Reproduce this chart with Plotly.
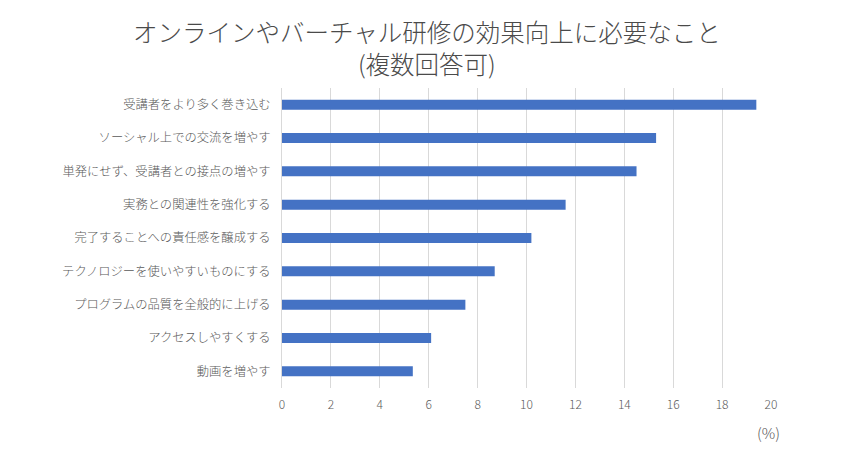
import plotly.graph_objects as go

categories = [
    "受講者をより多く巻き込む",
    "ソーシャル上での交流を増やす",
    "単発にせず、受講者との接点の増やす",
    "実務との関連性を強化する",
    "完了することへの責任感を醸成する",
    "テクノロジーを使いやすいものにする",
    "プログラムの品質を全般的に上げる",
    "アクセスしやすくする",
    "動画を増やす",
]
values = [19.4, 15.3, 14.5, 11.6, 10.2, 8.7, 7.5, 6.1, 5.35]
x_ticks = [0, 2, 4, 6, 8, 10, 12, 14, 16, 18, 20]
title_lines = ["オンラインやバーチャル研修の効果向上に必要なこと", "(複数回答可)"]

FONT = "Noto Sans CJK JP"
GREY = "#595959"

fig = go.Figure(
    go.Bar(
        y=categories,
        x=values,
        orientation="h",
        marker=dict(color="#4472C4", line=dict(width=0)),
        width=0.3,
    )
)

fig.update_layout(
    width=853,
    height=450,
    margin=dict(l=282, r=82, t=88, b=62),
    paper_bgcolor="white",
    plot_bgcolor="white",
    showlegend=False,
    font=dict(family=FONT, color=GREY, size=12),
    bargap=0.7,
)

fig.update_xaxes(
    range=[0, 20],
    tickvals=x_ticks,
    ticktext=[str(t) for t in x_ticks],
    showgrid=True,
    gridcolor="#D9D9D9",
    gridwidth=1,
    zeroline=False,
    showline=False,
    ticks="",
    tickfont=dict(size=12, color=GREY, weight=300),
    ticklabelstandoff=8,
)
fig.update_yaxes(
    categoryorder="array",
    categoryarray=categories[::-1],
    showline=True,
    linecolor="#D9D9D9",
    linewidth=1,
    showgrid=False,
    ticks="",
    ticklabelstandoff=8,
    tickfont=dict(size=12.3, color=GREY, weight=300),
)

# Two-line title as one centered annotation across the full page width
fig.add_annotation(
    text="<br>".join(title_lines),
    xref="paper",
    yref="paper",
    x=(426.5 - 282) / 489,
    y=1.135,
    xanchor="center",
    yanchor="middle",
    showarrow=False,
    align="center",
    font=dict(family=FONT, size=24.5, color="#4a4a4a", weight=300),
)

fig.add_annotation(
    text="(%)",
    xref="paper",
    yref="paper",
    x=(768 - 282) / 489,
    y=-0.147,
    xanchor="center",
    yanchor="middle",
    showarrow=False,
    font=dict(family=FONT, size=15, color=GREY, weight=300),
)

fig.write_html("out.html")
